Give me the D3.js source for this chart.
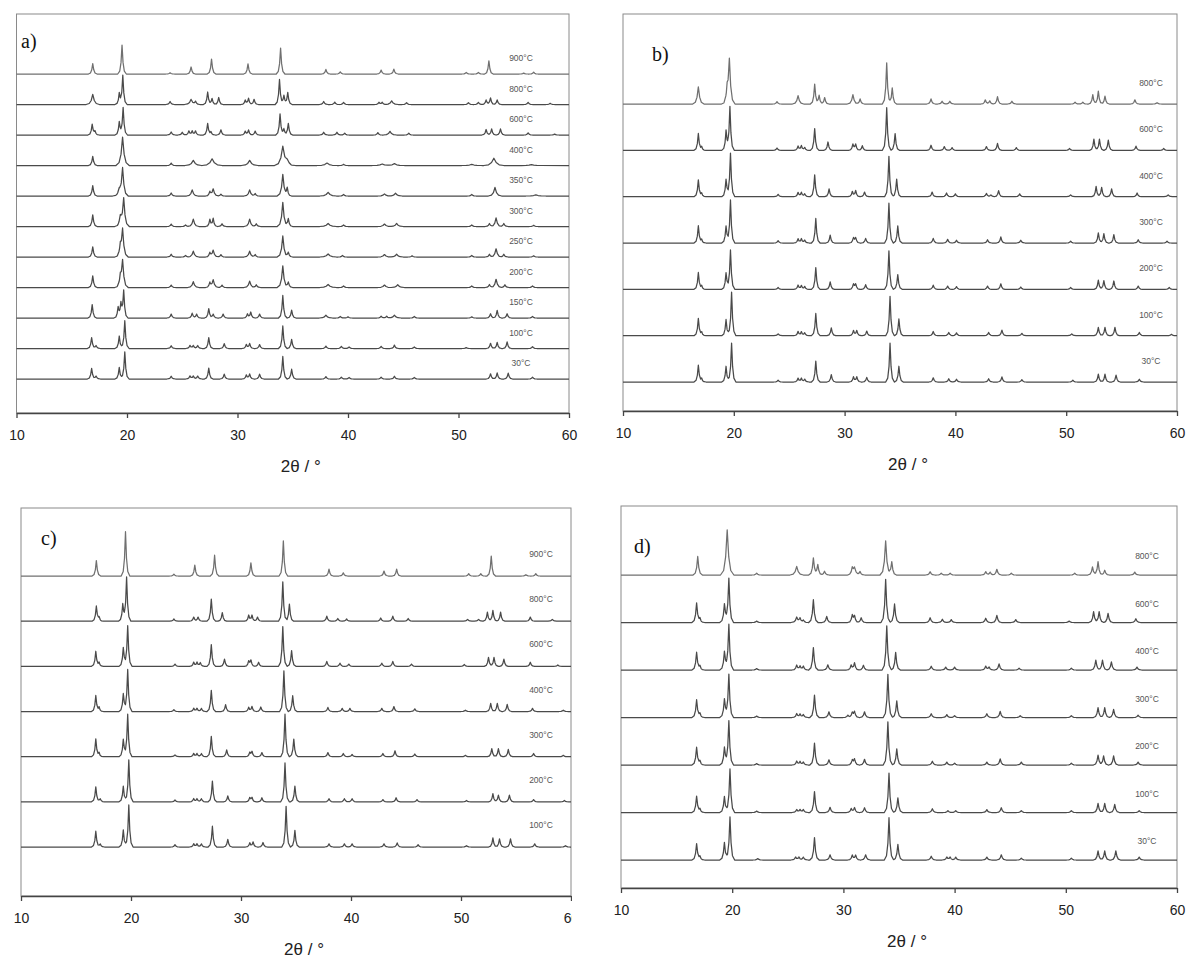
<!DOCTYPE html>
<html lang="en">
  <head>
    <meta charset="utf-8">
    <title>XRD patterns</title>
    <style>
      body { margin: 0; background: #fff; }
    </style>
  </head>
  <body>
    <svg width="1190" height="961"></svg>
    <script src="https://cdn.jsdelivr.net/npm/d3@7"></script>
    <script>
      // peaks are [2theta, intensity] or [2theta, intensity, halfwidth]; intensity 100 = gap between stacked traces
      const tempsA = ['900°C','800°C','600°C','400°C','350°C','300°C','250°C','200°C','150°C','100°C','30°C'];
      const peaksA = [
        [[16.9,34],[19.55,95],[23.9,4],[25.8,23],[27.65,49],[30.95,33],[33.9,85],[38.0,15],[39.3,7],[43.0,13],[44.15,16],[50.7,5],[51.8,5],[52.75,43],[55.9,3],[56.8,6]],
        [[16.9,33,0.2],[19.3,36],[19.62,95],[23.9,10],[25.8,17,0.2],[26.2,10],[27.3,41],[27.7,20],[28.3,23],[30.7,14],[31.0,20],[31.5,17],[33.8,82],[34.2,30],[34.55,39],[37.8,10],[38.8,8],[39.6,7],[42.8,7],[43.1,7],[43.95,12,0.2],[45.3,6],[50.9,6],[51.8,7],[52.5,15],[52.9,22],[53.5,15],[56.3,7],[58.3,4]],
        [[16.85,35],[17.1,12],[19.3,43],[19.65,90],[24.0,10],[25.0,9],[25.6,13],[25.9,13],[26.2,13],[27.3,38],[27.6,10],[28.5,17],[30.7,12],[31.0,16],[31.6,13],[33.85,69],[34.2,20],[34.6,38],[37.8,9],[39.0,9],[39.7,6],[42.7,8],[43.8,12,0.2],[45.5,6],[52.5,18],[53.0,20],[53.8,20],[56.3,7],[58.7,3]],
        [[16.9,30],[19.6,93,0.2],[24.0,8],[26.0,17,0.25],[27.7,22,0.3],[31.1,17,0.25],[34.1,62,0.25],[34.5,15,0.25],[38.1,8,0.3],[39.6,4],[43.1,5,0.3],[44.2,6,0.3],[51.2,4,0.3],[53.2,24,0.3],[56.6,3,0.3]],
        [[16.9,34],[19.3,20,0.2],[19.6,91,0.17],[24.0,10],[25.9,20,0.17],[27.5,14],[27.8,23,0.17],[28.5,6],[31.1,20,0.17],[31.6,8],[34.1,71,0.17],[34.5,26],[38.2,12,0.25],[39.6,5],[43.3,7,0.2],[44.3,9,0.2],[51.2,5],[53.3,28,0.2],[57.0,4,0.3]],
        [[16.9,38],[19.4,32,0.17],[19.7,92,0.17],[24.0,8],[25.3,5],[26.0,24,0.17],[27.5,23],[27.8,26],[28.6,9],[31.1,24,0.17],[31.7,9],[34.1,79,0.17],[34.6,26],[38.2,10,0.25],[39.6,5],[43.3,8,0.2],[44.4,10,0.2],[51.2,5],[52.8,10],[53.4,28,0.17],[54.1,10],[56.8,4]],
        [[16.9,33],[19.4,30,0.17],[19.6,88,0.17],[24.0,9],[25.3,5],[26.0,19,0.17],[27.5,14],[27.8,22,0.17],[28.5,8],[31.1,19,0.17],[31.6,8],[34.1,69,0.17],[34.6,16],[38.2,10,0.25],[39.5,5],[43.3,8,0.2],[44.4,9,0.2],[45.8,4],[51.2,5],[52.8,9],[53.4,27,0.17],[54.1,9],[56.8,4]],
        [[16.9,38],[19.4,30,0.17],[19.6,85,0.17],[24.0,8],[26.0,19,0.17],[27.5,16],[27.8,25,0.17],[28.6,8],[31.1,21,0.17],[31.7,9],[34.1,71,0.17],[34.6,18],[38.2,10,0.25],[39.6,5],[43.3,8,0.2],[44.5,9,0.2],[51.2,5],[52.8,10],[53.4,27,0.17],[54.2,9],[56.7,5]],
        [[16.85,44],[19.2,35],[19.45,45],[19.7,89],[24.0,13],[25.9,16],[26.3,13],[27.4,31],[27.8,13],[28.7,13],[30.9,13],[31.2,19],[32.0,13],[34.1,74],[34.9,26],[38.0,9,0.2],[39.3,5],[40.0,4],[43.0,6],[43.5,6],[44.2,9,0.2],[46.0,5],[51.2,4],[52.9,14],[53.5,25],[54.4,14],[56.7,5]],
        [[16.8,36],[17.2,10],[19.3,41],[19.8,91],[24.0,9],[25.7,10],[26.0,10],[26.4,10],[27.4,36],[28.8,16],[30.8,13],[31.1,16],[32.0,13],[34.1,74],[34.9,30],[38.0,8],[39.4,7],[40.1,5],[43.0,7],[44.2,11],[46.0,5],[50.7,3],[52.9,17],[53.5,20],[54.4,22],[56.7,6]],
        [[16.8,35],[17.2,10],[19.3,38],[19.8,89],[24.0,9],[25.7,10],[26.0,10],[26.4,10],[27.4,36],[28.8,16],[30.8,13],[31.1,16],[32.0,16],[34.1,74],[34.9,32],[38.0,8],[39.4,6],[40.1,5],[43.0,6],[44.2,9],[46.0,5],[52.9,17],[53.5,20],[54.5,19],[56.7,6]]
      ];

      const tempsB = ['800°C','600°C','400°C','300°C','200°C','100°C','30°C'];
      const peaksB = [
        [[16.8,37,0.17],[19.4,25,0.17],[19.6,93,0.17],[23.9,5],[25.8,18,0.17],[27.3,43],[27.7,19],[28.2,14],[30.75,20,0.17],[31.4,11],[33.8,89],[34.3,35],[37.8,11],[38.8,6],[39.5,6],[42.7,9],[43.1,7],[43.8,16],[45.1,6],[50.8,4],[51.5,4],[52.4,20],[52.9,28],[53.5,17],[56.2,9],[58.2,3]],
        [[16.8,36],[17.1,7],[19.3,42],[19.65,94],[23.9,5],[25.8,9],[26.1,10],[26.4,6],[27.3,47],[28.5,18],[30.75,13],[31.0,13],[31.6,10],[33.8,92],[34.56,36],[37.8,11],[39.0,8],[39.7,6],[42.8,8],[43.8,15],[45.5,6],[50.3,4],[52.5,24],[53.0,24],[53.8,22],[56.3,9],[58.8,4]],
        [[16.8,36],[17.1,7],[19.3,38],[19.7,94],[24.0,5],[25.8,9],[26.1,9],[26.4,6],[27.3,47],[28.6,17],[30.7,11],[31.0,13],[31.8,10],[34.0,87],[34.7,38],[37.9,10],[39.2,8],[40.0,6],[42.8,7],[43.2,4],[43.9,13],[45.8,6],[50.4,4],[52.7,22],[53.2,20],[54.1,17],[56.4,8],[59.2,4]],
        [[16.8,37],[17.1,7],[19.3,37],[19.7,93],[24.0,5],[25.8,9],[26.1,9],[26.4,6],[27.4,53],[28.7,17],[30.8,11],[31.0,11],[31.9,10],[34.0,86],[34.8,37],[38.0,10],[39.3,8],[40.1,6],[42.9,7],[44.1,13],[45.9,6],[50.4,4],[52.9,22],[53.4,20],[54.3,18],[56.5,7],[59.1,4]],
        [[16.8,36],[17.1,7],[19.3,36],[19.7,85],[24.0,4],[25.8,9],[26.1,8],[26.4,6],[27.4,47],[28.7,16],[30.8,11],[31.0,11],[31.9,10],[34.0,83],[34.8,32],[38.0,9],[39.3,7],[40.1,6],[42.9,7],[44.1,12],[45.9,5],[50.4,4],[52.9,20],[53.4,19],[54.3,18],[56.5,7],[59.3,4]],
        [[16.8,37],[17.1,7],[19.3,35],[19.8,94],[24.0,4],[25.8,9],[26.1,8],[26.4,6],[27.4,48],[28.8,17],[30.8,11],[31.1,11],[32.0,10],[34.1,85],[34.9,36],[38.0,9],[39.4,7],[40.1,6],[43.0,7],[44.2,12],[46.0,5],[50.5,4],[52.9,18],[53.5,18],[54.4,18],[56.6,7],[59.5,3]],
        [[16.8,36],[17.1,7],[19.3,34],[19.8,84],[24.0,4],[25.8,8],[26.1,8],[26.4,6],[27.4,45],[28.8,16],[30.8,11],[31.1,11],[32.0,10],[34.1,84],[34.9,34],[38.0,9],[39.4,7],[40.1,6],[43.0,7],[44.2,11],[46.0,5],[50.6,4],[52.9,17],[53.5,17],[54.5,15],[56.6,6]]
      ];

      const tempsC = ['900°C','800°C','600°C','400°C','300°C','200°C','100°C'];
      const peaksC = [
        [[16.85,34],[19.5,98],[23.9,4],[25.8,24],[27.6,46],[30.9,29],[33.85,78],[38.0,15],[39.3,7],[43.0,11],[44.15,15],[50.7,5],[51.8,5],[52.75,44],[55.9,3],[56.8,5]],
        [[16.85,33],[17.1,8],[19.25,37],[19.6,97],[23.9,5],[25.7,9],[26.1,9],[27.3,49],[28.3,19],[30.7,13],[31.0,13],[31.5,9],[33.8,87],[34.4,38],[37.8,11],[38.8,6],[39.6,5],[42.7,7],[43.8,11],[45.2,6],[50.6,4],[51.6,4],[52.4,20],[52.9,24],[53.6,20],[56.3,9],[58.3,4]],
        [[16.8,33],[17.1,8],[19.3,42],[19.7,90],[24.0,5],[25.7,9],[26.0,9],[26.3,8],[27.3,48],[28.5,16],[30.7,11],[30.9,13],[31.6,9],[33.8,88],[34.6,35],[37.8,11],[39.0,7],[39.8,5],[42.8,7],[43.8,11],[45.5,5],[50.3,4],[52.5,20],[53.0,20],[53.9,16],[56.3,9],[58.8,3]],
        [[16.8,35],[17.1,9],[19.3,40],[19.7,93],[23.9,4],[25.7,7],[26.0,7],[26.4,7],[27.3,47],[28.6,15],[30.7,9],[31.0,11],[31.8,10],[33.9,90],[34.7,35],[37.9,9],[39.2,7],[39.9,7],[42.8,7],[43.9,11],[45.8,6],[50.4,3],[52.7,18],[53.3,18],[54.2,16],[56.5,7],[59.3,3]],
        [[16.8,39],[17.1,8],[19.3,39],[19.7,94],[24.0,4],[25.7,7],[26.0,7],[26.4,7],[27.3,45],[28.7,15],[30.8,9],[31.0,11],[31.9,9],[34.0,94],[34.8,39],[37.9,9],[39.3,7],[40.1,5],[42.9,7],[44.0,13],[45.8,6],[50.4,3],[52.8,18],[53.4,18],[54.3,16],[56.6,7],[59.3,3]],
        [[16.8,33],[17.2,7],[19.3,35],[19.8,93],[24.0,4],[25.7,7],[26.0,7],[26.4,7],[27.4,46],[28.8,13],[30.8,9],[31.0,9],[31.9,9],[34.0,86],[34.9,35],[38.0,7],[39.4,7],[40.1,7],[42.9,5],[44.1,9],[46.0,5],[50.5,3],[52.9,18],[53.4,15],[54.4,15],[56.6,5],[59.4,3]],
        [[16.8,35],[17.2,7],[19.3,38],[19.8,93],[24.0,5],[25.7,7],[26.0,7],[26.4,7],[27.4,46],[28.8,17],[30.8,9],[31.1,11],[32.0,10],[34.1,90],[34.9,37],[38.0,7],[39.4,7],[40.1,7],[43.0,7],[44.2,9],[46.1,5],[50.5,3],[52.9,20],[53.5,18],[54.5,18],[56.7,7],[59.5,3]]
      ];

      const tempsD = ['800°C','600°C','400°C','300°C','200°C','100°C','30°C'];
      const peaksD = [
        [[16.9,39],[19.55,95,0.2],[22.2,4],[25.8,18,0.2],[27.3,36],[27.7,22],[28.3,8],[30.8,13],[31.0,15,0.2],[31.5,7],[33.8,72,0.17],[34.35,28],[37.8,7],[38.8,4],[39.6,4],[42.8,7],[43.2,6],[43.8,12],[45.1,4],[50.8,4],[52.4,17],[52.9,28],[53.5,10],[56.2,6]],
        [[16.8,41],[17.1,8],[19.3,39],[19.7,93],[22.2,3],[25.8,11,0.17],[26.1,9],[26.4,5],[27.3,48],[28.5,13],[30.8,15],[31.0,13],[31.6,10],[33.8,91],[34.6,39],[37.8,10],[38.9,7],[39.7,6],[42.8,9],[43.8,15],[45.5,6],[50.3,3],[52.5,23],[53.0,23],[53.8,19],[56.3,8]],
        [[16.8,37],[17.1,8],[19.3,39],[19.7,96],[22.2,3],[25.8,10],[26.1,8],[26.4,8],[27.3,47],[28.6,11],[30.7,10],[31.0,15],[31.8,10],[33.9,93],[34.7,37],[37.9,8],[39.2,6],[40.0,6],[42.8,8],[43.1,6],[44.0,13],[45.8,4],[50.5,4],[52.7,21],[53.3,21],[54.1,17],[56.4,6]],
        [[16.8,37],[17.1,8],[19.3,39],[19.7,91],[22.2,3],[25.8,8],[26.1,7],[26.4,6],[27.4,47],[28.7,12],[30.4,5],[30.8,10],[31.0,12],[31.9,12],[34.0,91],[34.8,35],[37.9,8],[39.3,6],[40.0,4],[42.9,8],[44.1,13],[45.9,4],[50.5,4],[52.9,21],[53.5,21],[54.3,17],[56.5,5]],
        [[16.8,37],[17.1,8],[19.3,37],[19.7,93],[22.2,3],[25.8,8],[26.1,7],[26.4,6],[27.4,46],[28.7,11],[30.8,10],[31.0,12],[31.9,12],[34.0,91],[34.8,34],[38.0,8],[39.3,6],[40.0,4],[42.9,6],[44.1,13],[46.0,6],[50.5,4],[52.9,21],[53.4,19],[54.3,19],[56.5,6]],
        [[16.8,34],[17.1,7],[19.3,34],[19.8,92],[22.2,3],[25.8,6],[26.1,6],[26.4,6],[27.4,44],[28.8,11],[30.7,8],[31.0,10],[31.9,10],[34.1,83],[34.9,31],[38.0,8],[39.4,4],[40.1,4],[42.9,6],[44.2,10],[46.0,4],[50.5,4],[52.9,19],[53.5,19],[54.4,17],[56.6,4]],
        [[16.8,34],[17.1,7],[19.3,37],[19.8,91],[22.3,3],[25.7,6],[26.0,6],[26.4,6],[27.4,47],[28.8,11],[30.8,10],[31.1,10],[32.0,11],[34.1,89],[34.9,33],[37.9,8],[39.3,6],[39.6,6],[40.1,6],[42.9,6],[44.2,11],[46.0,4],[50.5,4],[52.9,19],[53.5,19],[54.5,19],[56.6,6]]
      ];

      const xTicks = [10, 20, 30, 40, 50, 60];
      const xTitle = '2\u03b8 / \u00b0';

      const panels = [
        { letter: 'a)', temps: tempsA, peaks: peaksA, left: 16.5, right: 569, top: 14, axisY: 413,
          baseBottom: 379, baseTop: 74, labelX: 521, labelDy: -16, letterX: 21, letterY: 48, hw: 0.13, clip: null },
        { letter: 'b)', temps: tempsB, peaks: peaksB, left: 623, right: 1177, top: 14, axisY: 411,
          baseBottom: 382, baseTop: 104, labelX: 1151, labelDy: -21, letterX: 652, letterY: 61, hw: 0.13, clip: null },
        { letter: 'c)', temps: tempsC, peaks: peaksC, left: 21, right: 571, top: 508, axisY: 896,
          baseBottom: 847, baseTop: 576, labelX: 541, labelDy: -22, letterX: 41, letterY: 545, hw: 0.13, clip: 572 },
        { letter: 'd)', temps: tempsD, peaks: peaksD, left: 621, right: 1177, top: 506, axisY: 888,
          baseBottom: 860, baseTop: 575, labelX: 1147, labelDy: -19, letterX: 634, letterY: 553, hw: 0.14, clip: null }
      ];

      const sans = '"Liberation Sans", Arial, sans-serif';
      const svg = d3.select('svg');
      svg.append('rect').attr('width', 1190).attr('height', 961).attr('fill', '#fff');

      // peak glyph: offsets in half-widths -> fraction of peak height; overlapping peaks add up
      const glyph = d3.scaleLinear()
        .domain([-3, -1.6, -0.7, 0, 0.7, 1.6, 3])
        .range([0, 0.1, 0.4, 1, 0.4, 0.1, 0])
        .clamp(true);
      const glyphSteps = glyph.domain();

      function profileAt(peaks, hw, t) {
        let s = 0;
        peaks.forEach(function(p) {
          const w = p[2] || hw;
          s += p[1] * glyph((t - p[0]) / w);
        });
        return s;
      }

      function tracePoints(peaks, hw) {
        let xs = [10, 60];
        peaks.forEach(function(p) {
          const w = p[2] || hw;
          glyphSteps.forEach(function(k) { xs.push(p[0] + k * w); });
        });
        xs = Array.from(new Set(xs)).filter(function(t) { return t >= 10 && t <= 60; }).sort(d3.ascending);
        return xs.map(function(t) { return [t, profileAt(peaks, hw, t)]; });
      }

      panels.forEach(function(P, pi) {
        let g = svg.append('g');
        if (P.clip) {
          svg.append('clipPath').attr('id', 'clip' + pi)
            .append('rect').attr('x', 0).attr('y', 0).attr('width', P.clip).attr('height', 961);
          g.attr('clip-path', 'url(#clip' + pi + ')');
        }

        const n = P.temps.length;
        const x = d3.scaleLinear().domain([10, 60]).range([P.left, P.right]);
        const y = d3.scaleLinear().domain([0, 100 * (n - 1)]).range([P.baseBottom, P.baseTop]);

        // frame
        g.append('rect')
          .attr('x', P.left).attr('y', P.top)
          .attr('width', P.right - P.left).attr('height', P.axisY - P.top)
          .attr('fill', 'none').attr('stroke', '#8a8a8a').attr('stroke-width', 1);

        // bottom axis
        const axis = g.append('g')
          .attr('transform', 'translate(0,' + P.axisY + ')')
          .call(d3.axisBottom(x).tickValues(xTicks).tickSize(5).tickPadding(12).tickSizeOuter(0));
        axis.select('.domain').attr('stroke', '#444').attr('stroke-width', 1.3);
        axis.selectAll('.tick line').attr('stroke', '#444').attr('stroke-width', 1.3);
        axis.selectAll('.tick text')
          .attr('fill', '#222').attr('font-size', 14)
          .attr('font-family', sans);

        g.append('text')
          .attr('x', (P.left + P.right) / 2 + 8).attr('y', P.axisY + 59)
          .attr('text-anchor', 'middle').attr('font-size', 17).attr('fill', '#222')
          .attr('font-family', sans)
          .text(xTitle);

        g.append('text')
          .attr('x', P.letterX).attr('y', P.letterY)
          .attr('font-family', '"Liberation Serif", "Times New Roman", serif')
          .attr('font-size', 20).attr('fill', '#111')
          .text(P.letter);

        const line = d3.line()
          .x(function(d) { return x(d[0]); })
          .y(function(d) { return y(d[1] + d[2]); });

        P.peaks.forEach(function(pk, i) {
          const offset = 100 * (n - 1 - i);
          const pts = tracePoints(pk, P.hw).map(function(d) { return [d[0], d[1], offset]; });
          g.append('path')
            .datum(pts)
            .attr('d', line)
            .attr('fill', 'none')
            .attr('stroke', i === 0 ? '#707070' : '#4a4a4a')
            .attr('stroke-width', 1.25)
            .attr('stroke-linejoin', 'round');

          g.append('text')
            .attr('x', P.labelX).attr('y', y(offset) + P.labelDy + 3)
            .attr('text-anchor', 'middle')
            .attr('font-family', sans)
            .attr('font-size', 8.5).attr('fill', '#555')
            .text(P.temps[i]);
        });
      });
    </script>
  </body>
</html>
